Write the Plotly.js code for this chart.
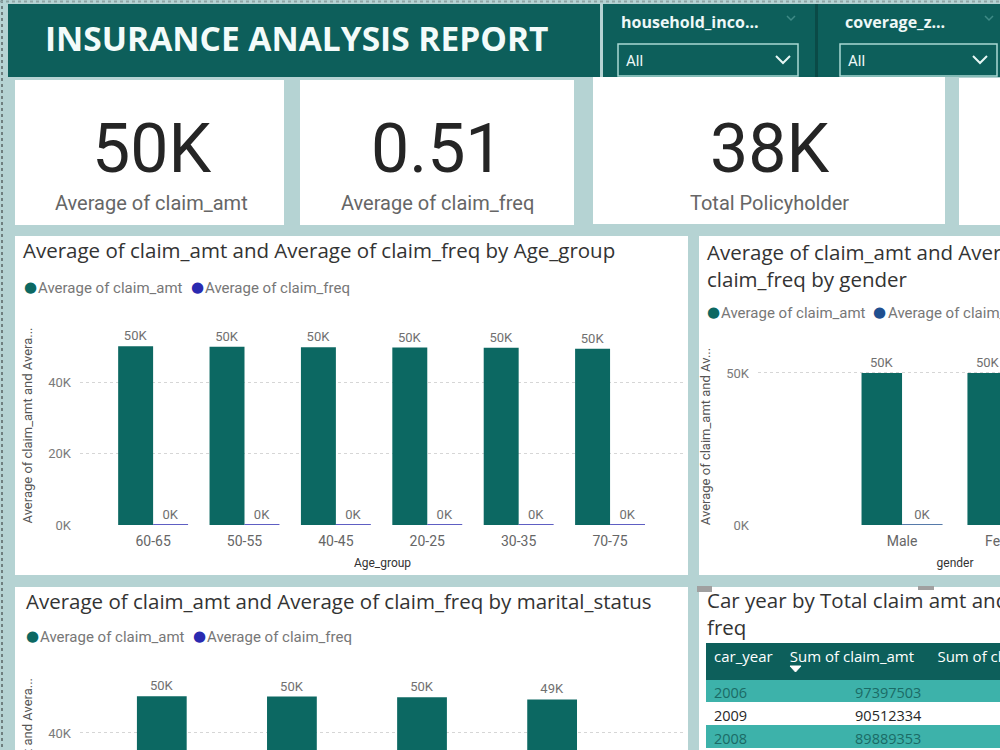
<!DOCTYPE html>
<html><head><meta charset="utf-8">
<script src="https://cdn.plot.ly/plotly-3.0.1.min.js"></script>
<style>
html,body{margin:0;padding:0;overflow:hidden;width:1000px;height:750px;background:#b5d3d3}
#chart{width:1200px;height:920px}
</style>
</head><body><div id="chart"></div>
<script>
// ---------------- data ----------------
const reportTitle = 'INSURANCE ANALYSIS REPORT';
const slicerNames = ['household_inco...', 'coverage_z...'];
const slicerValues = ['All', 'All'];
const avgClaimAmt = 50000;
const avgClaimFreq = 0.51;
const totalPolicyholders = 38000;
const kpiLabels = ['Average of claim_amt', 'Average of claim_freq', 'Total Policyholder'];
const seriesNames = ['Average of claim_amt', 'Average of claim_freq'];

const ageGroups = ['60-65', '50-55', '40-45', '20-25', '30-35', '70-75'];
const ageClaimAmt = [50300, 50150, 50050, 49950, 49900, 49600];
const ageClaimFreq = [0.51, 0.51, 0.50, 0.51, 0.51, 0.50];

const genders = ['Male', 'Female'];
const genderClaimAmt = [50020, 49980];
const genderClaimFreq = [0.51, 0.51];

const maritalStatus = ['Married', 'Single', 'Divorced', 'Widowed'];
const maritalClaimAmt = [50200, 50100, 49950, 49300];
const maritalClaimFreq = [0.51, 0.51, 0.51, 0.50];

const tableHeaders = ['car_year', 'Sum of claim_amt', 'Sum of claim_freq'];
const carYears = ['2006', '2009', '2008'];
const carClaimAmt = [97397503, 90512334, 89889353];
const carClaimFreq = [996, 925, 918];

const ageTicks = [0, 20000, 40000];
const genderTicks = [0, 50000];
const maritalTicks = [0, 20000, 40000];

// ---------------- styling ----------------
const W = 1200, H = 920;
const X = px => px / W;
const Y = py => 1 - py / H;
const TEAL = '#0c6862';
const HEAD = '#0d5f5b';
const NAVY = '#2a2ab0';
const BLUE2 = '#1f4f8f';
const BG = '#b5d3d3';
const F = 'Roboto, "Open Sans", sans-serif';
const FT = '"Open Sans", Roboto, sans-serif';
const fmtK = v => Math.round(v / 1000) + 'K';

function barPair(cats, amt, freq, xa, ya, freqColor) {
  const common = {type: 'bar', x: cats, xaxis: xa, yaxis: ya, textposition: 'outside',
    cliponaxis: false, constraintext: 'none', hoverinfo: 'skip', showlegend: false,
    textfont: {family: F, size: 13, color: '#707070'}};
  return [
    Object.assign({}, common, {y: amt, name: seriesNames[0], text: amt.map(fmtK),
      marker: {color: TEAL}}),
    Object.assign({}, common, {y: freq, name: seriesNames[1], text: freq.map(fmtK),
      marker: {color: freqColor, line: {color: freqColor, width: 1.5}}})
  ];
}

function yAxis(domain, range, ticks, anchor, title) {
  return {domain, range, anchor, tickvals: ticks, ticktext: ticks.map(fmtK),
    showgrid: true, gridcolor: '#d6d6d6', griddash: 'dot', gridwidth: 1,
    zeroline: false, showline: false, ticks: '', fixedrange: true,
    ticklabelstandoff: 8,
    tickfont: {family: F, size: 13, color: '#7a7a7a'},
    title: {text: title, standoff: 12, font: {family: F, size: 13, color: '#555'}}};
}
function xAxis(domain, range, cats, anchor, title) {
  return {domain, range, anchor, type: 'category', categoryorder: 'array', categoryarray: cats,
    showgrid: false, zeroline: false, showline: false, ticks: '', fixedrange: true,
    ticklabelstandoff: 6,
    tickfont: {family: F, size: 14, color: '#666'},
    title: {text: title, standoff: 10, font: {family: F, size: 12, color: '#333'}}};
}

const traces = [
  ...barPair(ageGroups, ageClaimAmt, ageClaimFreq, 'x', 'y', NAVY),
  ...barPair(genders, genderClaimAmt, genderClaimFreq, 'x2', 'y2', BLUE2),
  ...barPair(maritalStatus, maritalClaimAmt, maritalClaimFreq, 'x3', 'y3', NAVY),
  {
    type: 'table',
    domain: {x: [X(706), X(1085)], y: [Y(900), Y(643)]},
    columnwidth: [76, 148, 155],
    header: {
      values: tableHeaders,
      align: ['left', 'left', 'left'],
      height: 36,
      fill: {color: HEAD},
      line: {color: HEAD, width: 1},
      font: {family: FT, size: 15, color: '#ffffff'}
    },
    cells: {
      values: [carYears, carClaimAmt, carClaimFreq],
      align: ['left', 'right', 'right'],
      height: 23,
      fill: {color: [0, 1, 2].map(() => carYears.map((_, i) => i % 2 ? '#ffffff' : '#3db2aa'))},
      line: {color: 'rgba(0,0,0,0)', width: 0},
      font: {family: FT, size: 14.5, color: [0, 1, 2].map(() => carYears.map((_, i) => i % 2 ? '#262626' : '#1b6b66'))}
    }
  }
];

// ---------------- shapes ----------------
function rect(x0, y0, x1, y1, fill, extra) {
  return Object.assign({type: 'rect', xref: 'paper', yref: 'paper', x0: X(x0), x1: X(x1), y0: Y(y1), y1: Y(y0),
    fillcolor: fill, line: {width: 0}, layer: 'below'}, extra || {});
}
function path(pts, color, width, fill) {
  const d = pts.map((p, i) => (i ? 'L ' : 'M ') + X(p[0]) + ' ' + Y(p[1])).join(' ') + (fill ? ' Z' : '');
  return {type: 'path', xref: 'paper', yref: 'paper', path: d, line: {color, width},
    fillcolor: fill || 'rgba(0,0,0,0)', layer: 'above'};
}

const shapes = [
  rect(8, 4, 600, 77, HEAD),
  rect(603, 4, 1200, 77, HEAD),
  rect(815, 4, 818, 77, '#0a4a47'),
  // dropdown boxes
  rect(618, 44, 798, 76, 'rgba(0,0,0,0)', {line: {color: '#a9d9d4', width: 1.5}, layer: 'above'}),
  rect(840, 44, 997, 76, 'rgba(0,0,0,0)', {line: {color: '#a9d9d4', width: 1.5}, layer: 'above'}),
  path([[776, 56], [783, 63], [790, 56]], '#e6f6f4', 2),
  path([[973, 56], [980, 63], [987, 56]], '#e6f6f4', 2),
  path([[787, 16], [791, 20], [795, 16]], '#3f8a86', 1.5),
  path([[985, 16], [989, 20], [993, 16]], '#3f8a86', 1.5),
  // KPI cards
  rect(15, 80, 284, 225, '#ffffff'),
  rect(300, 80, 574, 225, '#ffffff'),
  rect(593, 77, 945, 224, '#ffffff'),
  rect(959, 78, 1200, 225, '#ffffff'),
  // chart panels
  rect(15, 236, 688, 575, '#ffffff'),
  rect(699, 236, 1200, 575, '#ffffff'),
  rect(15, 587, 688, 920, '#ffffff'),
  rect(699, 587, 1200, 920, '#ffffff'),
  // resize handles
  rect(697, 586, 712, 592, '#a0a0a0', {layer: 'above'}),
  rect(918, 586, 934, 590, '#a0a0a0', {layer: 'above'}),
  // sort arrow
  path([[790, 666], [801, 666], [795.5, 672]], '#ffffff', 1, '#ffffff'),
  // dotted selection border
  {type: 'line', xref: 'paper', yref: 'paper', x0: X(2), x1: X(2), y0: Y(0), y1: Y(920),
    line: {color: '#6f7f7f', width: 2, dash: 'dot'}, layer: 'above'},
  {type: 'line', xref: 'paper', yref: 'paper', x0: X(0), x1: X(1200), y0: Y(1.5), y1: Y(1.5),
    line: {color: '#8fa5a5', width: 2, dash: 'dot'}, layer: 'above'}
];

// ---------------- text ----------------
function ann(text, x, y, size, color, opts) {
  return Object.assign({text, x: X(x), y: Y(y), xref: 'paper', yref: 'paper', showarrow: false,
    xanchor: 'left', yanchor: 'middle', font: {family: F, size, color}}, opts || {});
}
function legend(x, y, c2, gap) {
  return [
    ann('●', x, y - 1, 24, TEAL, {xanchor: 'center', font: {family: 'DejaVu Sans', size: 15, color: TEAL}}),
    ann(seriesNames[0], x + 6, y, 15, '#777'),
    ann('●', x + gap, y - 1, 24, c2, {xanchor: 'center', font: {family: 'DejaVu Sans', size: 15, color: c2}}),
    ann(seriesNames[1], x + gap + 6, y, 15, '#777')
  ];
}
const kpiText = [fmtK(avgClaimAmt), avgClaimFreq.toFixed(2), fmtK(totalPolicyholders)];
const kpiX = [151, 437, 769];
const titleFont = {family: FT, size: 20.5, color: '#333'};
const annotations = [
  ann('<b>' + reportTitle + '</b>', 296, 38, 33, '#f3fbfa', {xanchor: 'center', font: {family: FT, size: 33.5, color: '#f3fbfa'}}),
  ann('<b>' + slicerNames[0] + '</b>', 619, 22, 16, '#eef8f7', {font: {family: FT, size: 16, color: '#eef8f7'}}),
  ann('<b>' + slicerNames[1] + '</b>', 843, 22, 16, '#eef8f7', {font: {family: FT, size: 16, color: '#eef8f7'}}),
  ann(slicerValues[0], 624, 61, 15, '#eef8f7'),
  ann(slicerValues[1], 846, 61, 15, '#eef8f7'),
  ...kpiText.map((t, i) => ann(t, kpiX[i], 149, 68, '#252525', {xanchor: 'center'})),
  ...kpiLabels.map((t, i) => ann(t, kpiX[i], 203, 20, '#666', {xanchor: 'center'})),
  ann('Average of claim_amt and Average of claim_freq by Age_group', 21, 250, 20, '#333', {font: titleFont}),
  ...legend(30, 288, NAVY, 167),
  ann('Average of claim_amt and Average of<br>claim_freq by gender', 705, 265, 20, '#333', {font: titleFont, align: 'left'}),
  ...legend(713, 313, BLUE2, 167),
  ann('Average of claim_amt and Average of claim_freq by marital_status', 24, 601, 20, '#333', {font: titleFont}),
  ...legend(32, 637, NAVY, 167),
  ann('Car year by Total claim amt and Total claim<br>freq', 705, 613, 20, '#333', {font: titleFont, align: 'left'})
];

const layout = {
  width: W, height: H,
  margin: {l: 0, r: 0, t: 0, b: 0},
  paper_bgcolor: BG, plot_bgcolor: 'rgba(0,0,0,0)',
  barmode: 'group', bargap: 0.235, bargroupgap: 0,
  showlegend: false,
  font: {family: F},
  xaxis: xAxis([X(80), X(685)], [-0.8, 5.82], ageGroups, 'y', 'Age_group'),
  yaxis: yAxis([Y(525), Y(326)], [0, 56000], ageTicks, 'x', 'Average of claim_amt and Avera...'),
  xaxis2: xAxis([X(758), X(1152)], [-1.36, 2.36], genders, 'y2', 'gender'),
  yaxis2: yAxis([Y(525), Y(348)], [0, 58200], genderTicks, 'x2', 'Average of claim_amt and Av...'),
  xaxis3: xAxis([X(80), X(685)], [-0.82, 3.83], maritalStatus, 'y3', 'marital_status'),
  yaxis3: yAxis([Y(877), Y(675)], [0, 56100], maritalTicks, 'x3', 'Average of claim_amt and Avera...'),
  shapes, annotations
};

Plotly.newPlot('chart', traces, layout, {displayModeBar: false, staticPlot: true});
</script>
</body></html>
